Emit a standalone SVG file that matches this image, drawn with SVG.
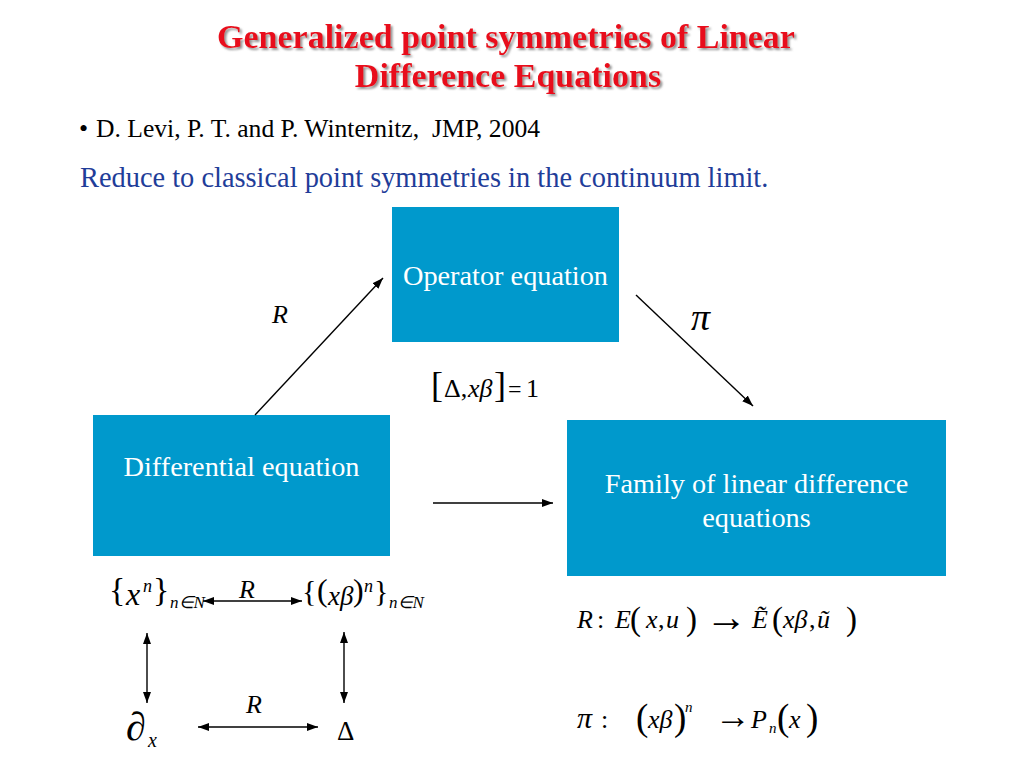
<svg xmlns="http://www.w3.org/2000/svg" width="1024" height="768" viewBox="0 0 1024 768">
<style>
.serif{font-family:"Liberation Serif","Times New Roman",serif;}
.title{font-family:"Liberation Serif",serif;font-weight:bold;font-size:34px;fill:#E8101C;text-anchor:middle;}
.box{fill:#0099CC;}
.boxt{font-family:"Liberation Serif",serif;font-size:28.3px;fill:#ffffff;text-anchor:middle;}
.m{font-family:"Liberation Serif",serif;fill:#000;}
.i{font-style:italic;}
.conn{stroke:#000;stroke-width:1.4;fill:none;}
</style>
<defs>
<marker id="ah" markerUnits="userSpaceOnUse" markerWidth="12" markerHeight="8" refX="11" refY="4" orient="auto-start-reverse">
<path d="M0,0 L11,4 L0,8 Z" fill="#000"/>
</marker>
<filter id="shadow" x="-5%" y="-20%" width="110%" height="150%">
<feDropShadow dx="2" dy="2" stdDeviation="0.8" flood-color="#808080" flood-opacity="0.85"/>
</filter>
</defs>
<rect width="1024" height="768" fill="#ffffff"/>

<g id="title" filter="url(#shadow)">
<text class="title" x="506" y="48">Generalized point symmetries of Linear</text>
<text class="title" x="508" y="87">Difference Equations</text>
</g>

<g id="bullet">
<text class="serif" x="79" y="137" font-size="26" fill="#000">•</text>
<text class="serif" x="96" y="137" font-size="25.6" fill="#000" xml:space="preserve">D. Levi, P. T. and P. Winternitz,  JMP, 2004</text>
</g>
<text id="subtitle" class="serif" x="80" y="187" font-size="28.4" fill="#1F3D99">Reduce to classical point symmetries in the continuum limit.</text>

<g id="node-operator">
<rect class="box" x="392" y="207" width="227" height="135"/>
<text class="boxt" x="505.5" y="285">Operator equation</text>
</g>
<g id="node-differential">
<rect class="box" x="93" y="415" width="297" height="141"/>
<text class="boxt" x="241.5" y="476">Differential equation</text>
</g>
<g id="node-family">
<rect class="box" x="567" y="420" width="379" height="156"/>
<text class="boxt" x="756.5" y="493">Family of linear difference</text>
<text class="boxt" x="756.5" y="527">equations</text>
</g>

<g id="connectors">
<line class="conn" x1="255" y1="415" x2="383" y2="278" marker-end="url(#ah)"/>
<line class="conn" x1="636" y1="295" x2="753" y2="406" marker-end="url(#ah)"/>
<line class="conn" x1="433" y1="503" x2="553" y2="503" marker-end="url(#ah)"/>
<line class="conn" x1="203" y1="601" x2="302" y2="601" marker-start="url(#ah)" marker-end="url(#ah)"/>
<line class="conn" x1="147" y1="633" x2="147" y2="703" marker-start="url(#ah)" marker-end="url(#ah)"/>
<line class="conn" x1="344" y1="632" x2="344" y2="703" marker-start="url(#ah)" marker-end="url(#ah)"/>
<line class="conn" x1="198" y1="727" x2="318" y2="727" marker-start="url(#ah)" marker-end="url(#ah)"/>
</g>

<g id="labels">
<text class="m i" x="272" y="323" font-size="26">R</text>
<text class="m i" x="691" y="330" font-size="38">π</text>
<text class="m i" x="239" y="598" font-size="26">R</text>
<text class="m i" x="246" y="713" font-size="26">R</text>
</g>

<g id="commutator">
<text class="m" font-size="26"><tspan x="431" y="397" font-size="36">[</tspan><tspan x="444" y="397">Δ,</tspan><tspan x="468" y="397" font-style="italic">xβ</tspan><tspan x="494" y="397" font-size="36">]</tspan><tspan x="508" y="397" font-size="24">=</tspan><tspan x="526" y="397">1</tspan></text>
</g>

<g id="set-xn">
<text class="m" font-size="34"><tspan x="109" y="601">{</tspan><tspan x="126" y="605" font-size="32" font-style="italic">x</tspan><tspan x="143" y="592" font-size="18" font-style="italic">n</tspan><tspan x="153" y="601">}</tspan><tspan x="170" y="608" font-size="17" font-style="italic">n∈N</tspan></text>
</g>

<g id="set-xbeta">
<text class="m" font-size="30"><tspan x="302" y="601">{</tspan><tspan x="317" y="601" font-size="32">(</tspan><tspan x="328" y="605" font-size="27" font-style="italic">xβ</tspan><tspan x="353" y="601" font-size="32">)</tspan><tspan x="364" y="592" font-size="18" font-style="italic">n</tspan><tspan x="374" y="601">}</tspan><tspan x="389" y="608" font-size="17" font-style="italic">n∈N</tspan></text>
</g>

<g id="dx">
<text class="m" x="126" y="740" font-size="40">∂</text>
<text class="m i" x="148" y="747" font-size="20">x</text>
</g>
<g id="delta">
<text class="m" x="337" y="740" font-size="27">Δ</text>
</g>

<g id="formula-R">
<text class="m i" x="577" y="628" font-size="26">R</text>
<text class="m" x="597" y="628" font-size="26">:</text>
<text class="m i" x="615" y="628" font-size="26">E</text>
<text class="m" x="630" y="630" font-size="33">(</text>
<text class="m i" x="646" y="628" font-size="26">x</text>
<text class="m" x="658" y="628" font-size="26">,</text>
<text class="m i" x="666" y="628" font-size="26">u</text>
<text class="m" x="686" y="630" font-size="33">)</text>
<text class="m" x="705" y="631" font-size="42">→</text>
<text class="m i" x="752" y="628" font-size="26">Ẽ</text>
<text class="m" x="772" y="630" font-size="33">(</text>
<text class="m i" x="783" y="628" font-size="26">xβ</text>
<text class="m" x="809" y="628" font-size="26">,</text>
<text class="m i" x="817" y="628" font-size="26">ũ</text>
<text class="m" x="846" y="630" font-size="33">)</text>
</g>

<g id="formula-pi">
<text class="m i" x="577" y="728" font-size="30">π</text>
<text class="m" x="601" y="728" font-size="26">:</text>
<text class="m" x="636" y="730" font-size="37">(</text>
<text class="m i" x="648" y="728" font-size="26">xβ</text>
<text class="m" x="674" y="730" font-size="37">)</text>
<text class="m i" x="685" y="712" font-size="15">n</text>
<text class="m" x="715" y="728" font-size="36">→</text>
<text class="m i" x="751" y="728" font-size="26">P</text>
<text class="m i" x="769" y="733" font-size="15">n</text>
<text class="m" x="777" y="730" font-size="37">(</text>
<text class="m i" x="789" y="728" font-size="26">x</text>
<text class="m" x="806" y="730" font-size="37">)</text>
</g>
</svg>
